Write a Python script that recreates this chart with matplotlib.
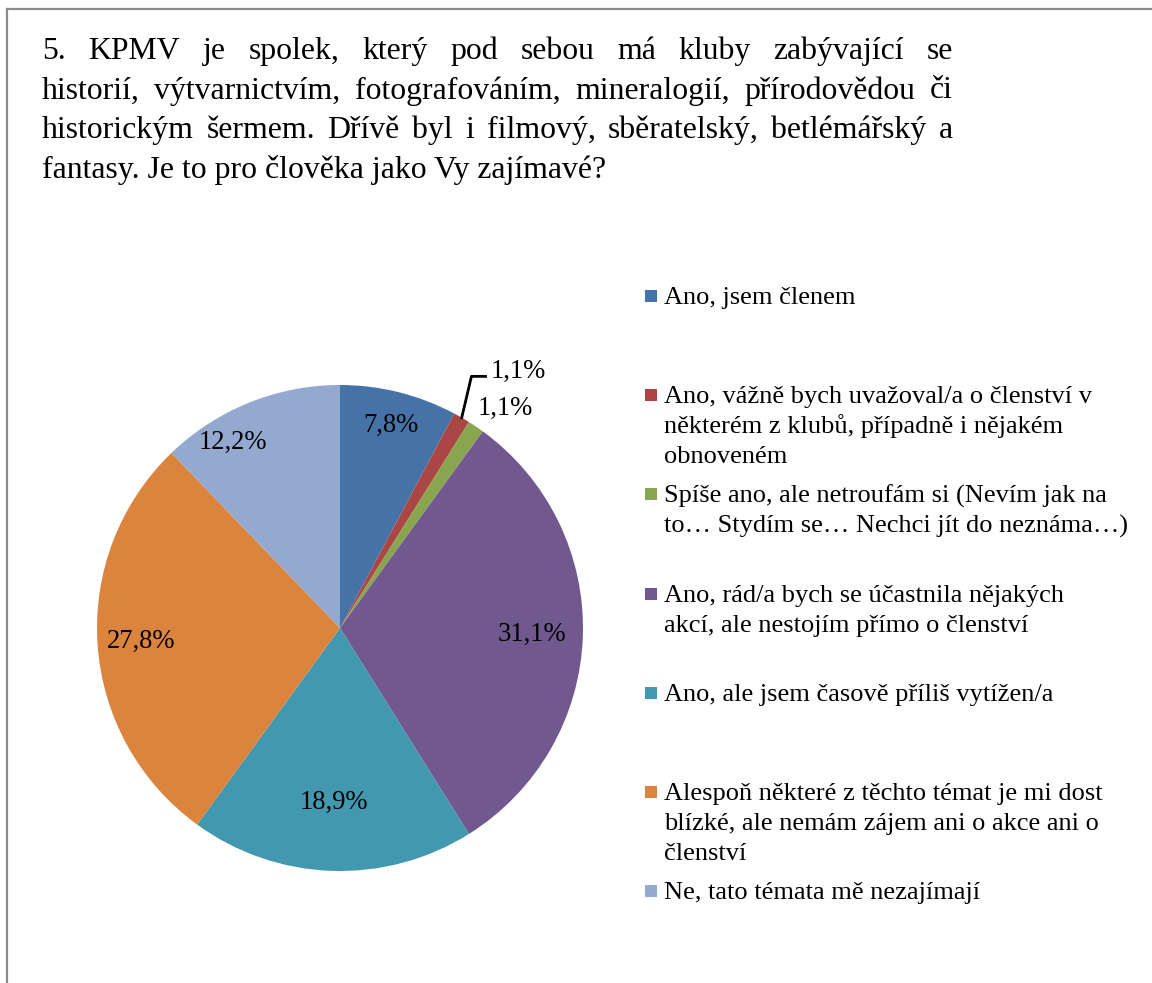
import numpy as np
import matplotlib
matplotlib.use("Agg")
import matplotlib.pyplot as plt
from matplotlib.lines import Line2D
from matplotlib.patches import Rectangle

# --- data -------------------------------------------------------------
categories = [
    "Ano, jsem členem",
    "Ano, vážně bych uvažoval/a o členství v\nněkterém z klubů, případně i nějakém\nobnoveném",
    "Spíše ano, ale netroufám si (Nevím jak na\nto… Stydím se… Nechci jít do neznáma…)",
    "Ano, rád/a bych se účastnila nějakých\nakcí, ale nestojím přímo o členství",
    "Ano, ale jsem časově příliš vytížen/a",
    "Alespoň některé z těchto témat je mi dost\nblízké, ale nemám zájem ani o akce ani o\nčlenství",
    "Ne, tato témata mě nezajímají",
]
values = [7.8, 1.1, 1.1, 31.1, 18.9, 27.8, 12.2]
colors = ["#4572A7", "#AA4643", "#89A54E", "#71588F", "#4198AF", "#DB843D", "#93A9CF"]

title_lines = [
    "5. KPMV je spolek, který pod sebou má kluby zabývající se",
    "historií, výtvarnictvím, fotografováním, mineralogií, přírodovědou či",
    "historickým šermem. Dřívě byl i filmový, sběratelský, betlémářský a",
    "fantasy. Je to pro člověka jako Vy zajímavé?",
]

# label placement (radius factor, angle offset in degrees) per slice
label_r = [0.86, None, 1.13, 0.79, 0.72, 0.82, 0.88]
label_da = [0, 0, -3, 0, 0, 0, 8]

W, H = 1152, 983
FONT = "Liberation Serif"
plt.rcParams["font.family"] = [FONT, "DejaVu Serif"]

fig = plt.figure(figsize=(W / 100, H / 100), dpi=100)


def px(x, y):
    return x / W, 1 - y / H


# frame
fig.add_artist(Line2D([7 / W, 1], [1 - 9 / H, 1 - 9 / H], transform=fig.transFigure, color="#8c8c8c", lw=1.6))
fig.add_artist(Line2D([7 / W, 7 / W], [0, 1 - 9 / H], transform=fig.transFigure, color="#8c8c8c", lw=1.6))

# title, justified
title_fs = 22.9
left, right = 42, 953
renderer = fig.canvas.get_renderer()
for i, line in enumerate(title_lines):
    yb = 59 + i * 39.5
    words = line.split(" ")
    if i == len(title_lines) - 1:
        fig.text(*px(left, yb), line, fontsize=title_fs, va="baseline", ha="left")
        continue
    arts = [fig.text(0, 0, w, fontsize=title_fs, va="baseline", ha="left") for w in words]
    widths = [a.get_window_extent(renderer).width for a in arts]
    gap = (right - left - sum(widths)) / (len(words) - 1)
    x = left
    for a, w in zip(arts, widths):
        a.set_position(px(x, yb))
        x += w + gap

# pie
cx, cy, R = 340, 628, 243
ax = fig.add_axes([(cx - R) / W, (H - cy - R) / H, 2 * R / W, 2 * R / H])
wedges, _ = ax.pie(values, colors=colors, startangle=90, counterclock=False,
                   radius=1.0, wedgeprops={"linewidth": 0})
ax.set_xlim(-1, 1)
ax.set_ylim(-1, 1)
ax.set_aspect("equal")
ax.axis("off")

lab_fs = 19.2
for i, (w, v) in enumerate(zip(wedges, values)):
    txt = f"{v:.1f}".replace(".", ",") + "%"
    mid = np.deg2rad((w.theta1 + w.theta2) / 2)
    if label_r[i] is None:
        # leader line label
        sx, sy = np.cos(mid), np.sin(mid)
        ex, ey = sx + 0.04, sy + 0.17
        ax.plot([sx, ex, ex + 0.058], [sy, ey, ey], color="black", lw=2, clip_on=False)
        ax.text(ex + 0.078, ey + 0.02, txt, fontsize=lab_fs, ha="left", va="center", clip_on=False)
        continue
    a = mid + np.deg2rad(label_da[i])
    ax.text(label_r[i] * np.cos(a), label_r[i] * np.sin(a), txt, fontsize=lab_fs,
            ha="center", va="center", clip_on=False)

# legend
leg_fs = 19.0
leg_x, leg_y0, leg_step, line_h = 664, 297, 99.2, 30
for i, (lab, c) in enumerate(zip(categories, colors)):
    y = leg_y0 + i * leg_step
    fig.add_artist(Rectangle(px(645, y + 5), 12 / W, 12 / H, transform=fig.transFigure,
                             facecolor=c, edgecolor="none"))
    for j, ln in enumerate(lab.split("\n")):
        fig.text(*px(leg_x, y + 7 + j * line_h), ln, fontsize=leg_fs, va="baseline", ha="left")

fig.savefig("out.png", dpi=100, facecolor="white")
